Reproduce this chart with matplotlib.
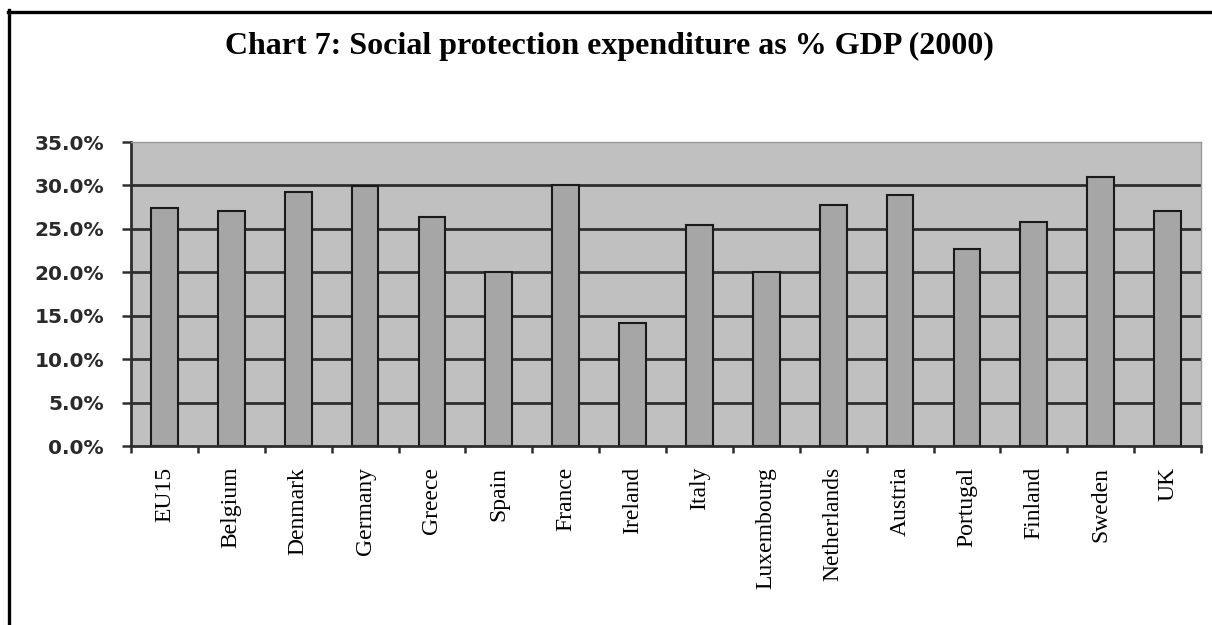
import numpy as np
import matplotlib
matplotlib.use("Agg")
import matplotlib.pyplot as plt
from matplotlib.lines import Line2D
from matplotlib.ticker import FuncFormatter

# Social protection expenditure as a share of GDP, 2000
countries = ["EU15", "Belgium", "Denmark", "Germany", "Greece", "Spain", "France",
             "Ireland", "Italy", "Luxembourg", "Netherlands", "Austria", "Portugal",
             "Finland", "Sweden", "UK"]
expenditure_pct = [27.4, 27.0, 29.3, 29.9, 26.4, 20.0, 30.0, 14.2, 25.4, 20.0,
                   27.7, 28.9, 22.7, 25.8, 31.0, 27.0]
y_ticks = [0, 5, 10, 15, 20, 25, 30, 35]
title = "Chart 7: Social protection expenditure as % GDP (2000)"

W, H = 1212, 625
fig = plt.figure(figsize=(W / 100, H / 100), dpi=100)
fig.patch.set_facecolor("white")

left, right, top, bottom = 131, 1201, 142, 446
ax = fig.add_axes([left / W, 1 - bottom / H, (right - left) / W, (bottom - top) / H])
ax.set_facecolor("#c0c0c0")

x = np.arange(len(countries))
ax.set_xlim(-0.5, len(countries) - 0.5)
ax.set_ylim(0, 35)

# dark horizontal gridlines
for yv in y_ticks[1:-1]:
    ax.axhline(yv, color="#2e2e2e", lw=2.0, zorder=1)

ax.bar(x, expenditure_pct, width=0.4, color="#a6a6a6", edgecolor="#1a1a1a",
       linewidth=1.5, zorder=2)

# spines
for side in ("top", "right"):
    ax.spines[side].set_color("#9a9a9a")
    ax.spines[side].set_linewidth(1.0)
for side in ("left", "bottom"):
    ax.spines[side].set_color("#2e2e2e")
    ax.spines[side].set_linewidth(2.0)

# y axis
ax.set_yticks(y_ticks)
ax.yaxis.set_major_formatter(FuncFormatter(lambda v, p: f"{v:.1f}%"))
ax.tick_params(axis="y", length=6.5, width=1.8, color="#2e2e2e", pad=13,
               labelsize=14.5)
for lbl in ax.get_yticklabels():
    lbl.set_fontfamily("DejaVu Sans")
    lbl.set_fontweight("bold")
    lbl.set_color("#2a2a2a")

# x axis: tick marks between categories, labels at category centres
ax.set_xticks(np.arange(-0.5, len(countries), 1.0))
ax.set_xticklabels([])
ax.tick_params(axis="x", which="major", length=5, width=1.8, color="#2e2e2e")
ax.set_xticks(x, minor=True)
ax.set_xticklabels(countries, minor=True, rotation=90, fontsize=17,
                   fontfamily="Liberation Serif", color="black")
ax.tick_params(axis="x", which="minor", length=0, pad=15)

# title
fig.text(609 / W, 1 - 46 / H, title, ha="center", va="center", fontsize=23,
         fontweight="bold", fontfamily="Liberation Serif", color="black")

# frame around the chart
fig.add_artist(Line2D([8 / W, 1.0], [1 - 11.5 / H, 1 - 11.5 / H],
                      transform=fig.transFigure, color="black", lw=2.4))
fig.add_artist(Line2D([8.5 / W, 8.5 / W], [0, 1 - 10 / H],
                      transform=fig.transFigure, color="black", lw=2.4))

fig.savefig("out.png", dpi=100)
